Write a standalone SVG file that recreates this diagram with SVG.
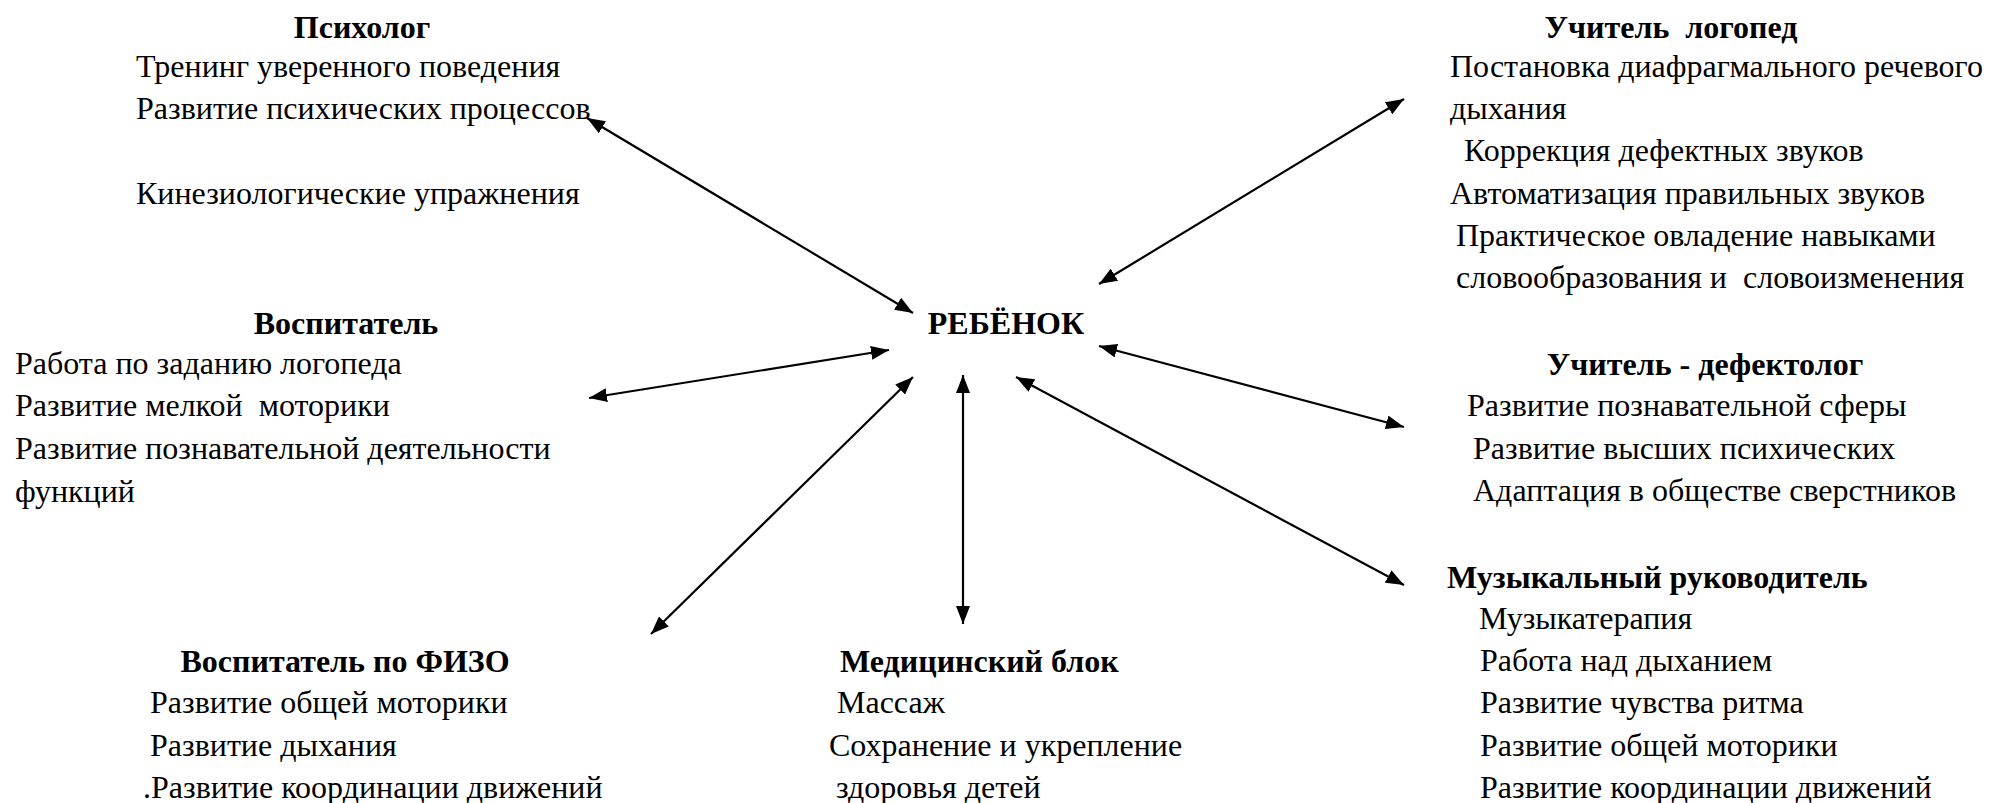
<svg xmlns="http://www.w3.org/2000/svg" width="1989" height="803" viewBox="0 0 1989 803">
<style>
text{font-family:"Liberation Serif","Times New Roman",serif;font-size:32px;fill:#000}
.h{font-weight:bold}
.c{text-anchor:middle}
.ln{stroke:#000;stroke-width:2.2;fill:none;marker-start:url(#ah);marker-end:url(#ah)}
</style>
<defs>
<marker id="ah" markerUnits="userSpaceOnUse" markerWidth="20" markerHeight="14" refX="18" refY="7" orient="auto-start-reverse">
<path d="M0,0 L18,7 L0,14 z" fill="#000"/>
</marker>
</defs>
<rect width="1989" height="803" fill="#fff"/>
<g id="connectors">
<line class="ln" x1="587" y1="118" x2="913" y2="313"/>
<line class="ln" x1="1404" y1="99" x2="1099" y2="284"/>
<line class="ln" x1="589" y1="398" x2="889" y2="350"/>
<line class="ln" x1="651" y1="634" x2="913" y2="377"/>
<line class="ln" x1="963" y1="375" x2="963" y2="624"/>
<line class="ln" x1="1016" y1="377" x2="1404" y2="585"/>
<line class="ln" x1="1099" y1="346" x2="1404" y2="427"/>
</g>
<g id="child"><text class="h c" x="1006" y="334">РЕБЁНОК</text></g>
<g id="psycholog">
<text class="h c" x="362" y="38">Психолог</text>
<text x="136" y="77">Тренинг уверенного поведения</text>
<text x="136" y="119">Развитие психических процессов</text>
<text x="136" y="204">Кинезиологические упражнения</text>
</g>
<g id="logoped">
<text class="h c" x="1671" y="38" xml:space="preserve">Учитель  логопед</text>
<text x="1450" y="77">Постановка диафрагмального речевого</text>
<text x="1450" y="119">дыхания</text>
<text x="1464" y="161">Коррекция дефектных звуков</text>
<text x="1450" y="204">Автоматизация правильных звуков</text>
<text x="1456" y="246">Практическое овладение навыками</text>
<text x="1456" y="288" xml:space="preserve">словообразования и  словоизменения</text>
</g>
<g id="vospitatel">
<text class="h c" x="346" y="334">Воспитатель</text>
<text x="15" y="374">Работа по заданию логопеда</text>
<text x="15" y="416" xml:space="preserve">Развитие мелкой  моторики</text>
<text x="15" y="459">Развитие познавательной деятельности</text>
<text x="15" y="502">функций</text>
</g>
<g id="defectolog">
<text class="h c" x="1705" y="375">Учитель - дефектолог</text>
<text x="1467" y="416">Развитие познавательной сферы</text>
<text x="1473" y="459">Развитие высших психических</text>
<text x="1473" y="501">Адаптация в обществе сверстников</text>
</g>
<g id="music">
<text class="h" x="1447" y="588">Музыкальный руководитель</text>
<text x="1479" y="629">Музыкатерапия</text>
<text x="1480" y="671">Работа над дыханием</text>
<text x="1480" y="713">Развитие чувства ритма</text>
<text x="1480" y="756">Развитие общей моторики</text>
<text x="1480" y="798">Развитие координации движений</text>
</g>
<g id="fizo">
<text class="h c" x="345" y="672">Воспитатель по ФИЗО</text>
<text x="150" y="713">Развитие общей моторики</text>
<text x="150" y="756">Развитие дыхания</text>
<text x="143" y="798">.Развитие координации движений</text>
</g>
<g id="medical">
<text class="h" x="840" y="672">Медицинский блок</text>
<text x="837" y="713">Массаж</text>
<text x="829" y="756">Сохранение и укрепление</text>
<text x="836" y="798">здоровья детей</text>
</g>
</svg>
